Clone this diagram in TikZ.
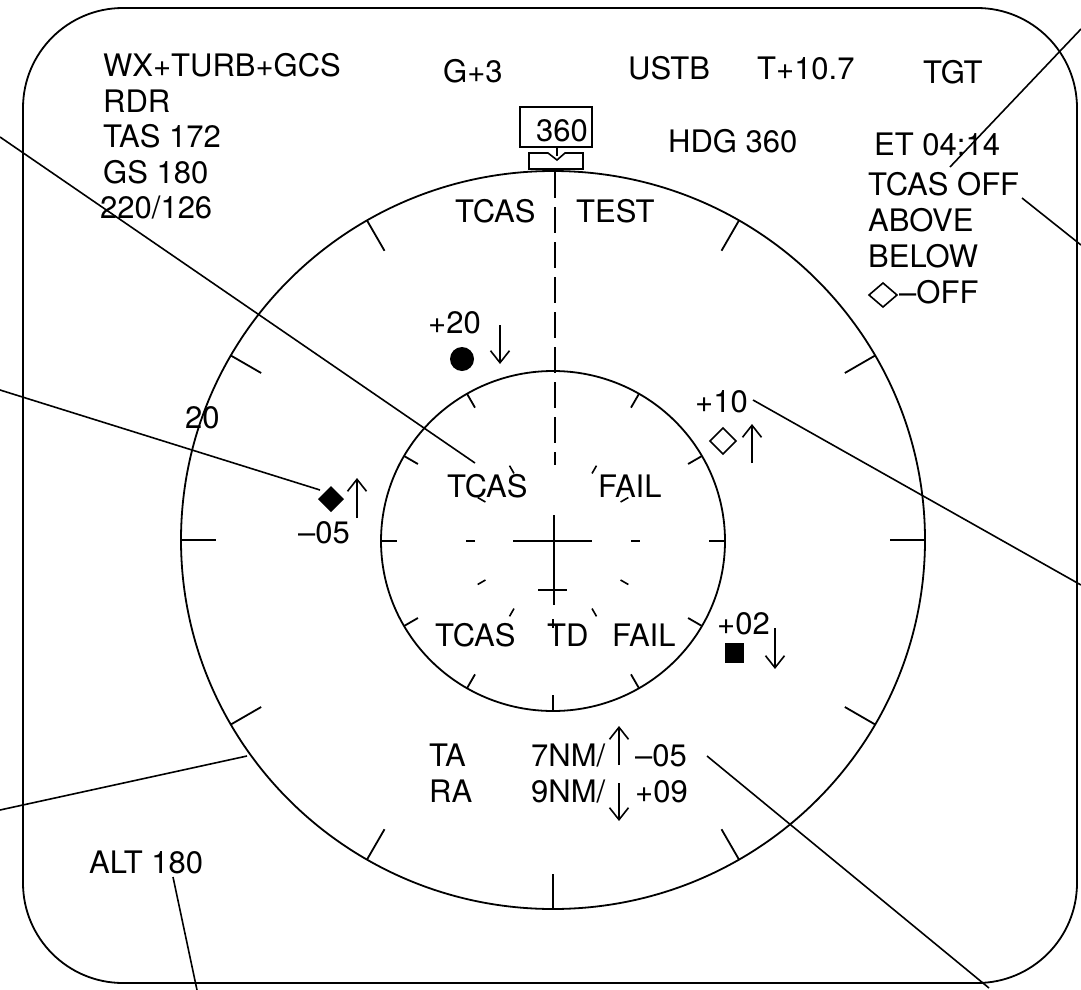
\documentclass[tikz,border=0pt]{standalone}
\usepackage{fontspec}
\setmainfont{TeX Gyre Heros}
\usetikzlibrary{arrows.meta}
\tikzset{
  txt/.style={font=\fontsize{31}{36}\selectfont, inner sep=0pt, anchor=base west},
  ln/.style={line width=1.8pt},
  thin/.style={line width=1.6pt},
  arr/.style={line width=1.6pt, -{Straight Barb[length=12pt,width=19pt,line width=1.6pt]}},
}
\begin{document}
\begin{tikzpicture}[x=1pt,y=-1pt]
\useasboundingbox (0,0) rectangle (1081,990);
% frame
\draw[ln, rounded corners=100pt] (23,8) rectangle (1077,983);
% rings
\draw[ln] (553,540) ellipse [x radius=372pt, y radius=369pt];
\draw[ln] (553,541) ellipse [x radius=172pt, y radius=170pt];
\foreach \a in {0,30,60,120,150,180,210,240,270,300,330}{
  \draw[ln] ({553+372*cos(\a)},{540-369*sin(\a)}) -- ({553+337*cos(\a)},{540-334*sin(\a)});
  \draw[ln] ({553+172*cos(\a)},{541-170*sin(\a)}) -- ({553+156*cos(\a)},{541-154*sin(\a)});
  \draw[thin] ({553+78*cos(\a)},{541-78*sin(\a)}) -- ({553+87*cos(\a)},{541-87*sin(\a)});
}
% heading pointer
\draw[thin] (520,107) rectangle (592,147);
\node[txt] (hdgval) at (536,141) {360};
\draw[thin] (557,147) -- (557,156);
\draw[thin] (529,153) -- (548,153) -- (557,160) -- (565,153) -- (583,153) -- (583,169) -- (529,169) -- cycle;
% lubber line
\draw[ln, dash pattern=on 26pt off 9pt] (555,172) -- (555,465);
% own aircraft
\draw[ln] (513,541) -- (592,541);
\draw[ln] (554,515) -- (554,605);
\draw[ln] (538,590) -- (567,590);
% top-left text
\node[txt] (wx) at (103,77) {WX+TURB+GCS};
\node[txt] (rdr) at (103,112) {RDR};
\node[txt] (tas) at (103,147) {TAS 172};
\node[txt] (gs) at (103,183) {GS 180};
\node[txt] (wind) at (100,218) {220/126};
\node[txt] (g3) at (443,82) {G+3};
\node[txt] (ustb) at (628,80) {USTB};
\node[txt] (tplus) at (757,80) {T+10.7};
\node[txt] (tgt) at (923,83) {TGT};
\node[txt] (hdg) at (668,152) {HDG 360};
\node[txt] (et) at (874,155) {ET 04:14};
\node[txt] (tcasoff) at (868,195) {TCAS OFF};
\node[txt] (above) at (868,231) {ABOVE};
\node[txt] (below) at (868,267) {BELOW};
\draw[thin] (869,295) -- (883,283) -- (897,295) -- (883,307) -- cycle;
\node[txt] (offtxt) at (899,303) {–OFF};
% ring texts
\node[txt] (tcasA) at (455,222) {TCAS};
\node[txt] (test) at (576,222) {TEST};
\node[txt] (p20) at (428,333) {+20};
\fill (462,359) circle (12pt);
\draw[arr] (500,325) -- (500,364);
\node[txt] (twenty) at (185,428) {20};
\node[txt] (p10) at (695,412) {+10};
\draw[thin] (710,441) -- (723,428) -- (736,441) -- (723,454) -- cycle;
\draw[arr] (752,463) -- (752,424);
\fill (318,499) -- (331,486) -- (344,499) -- (331,512) -- cycle;
\draw[arr] (357,518) -- (357,478);
\node[txt] (m05) at (298,543) {–05};
\node[txt] (tcasB) at (447,497) {TCAS};
\node[txt] (failA) at (598,497) {FAIL};
\node[txt] (tcasC) at (435,646) {TCAS};
\node[txt] (td) at (547,646) {TD};
\node[txt] (failB) at (612,646) {FAIL};
\node[txt] (p02) at (717,634) {+02};
\fill (725,643) rectangle (744,663);
\draw[arr] (775,628) -- (775,669);
% TA / RA
\node[txt] (ta) at (429,766) {TA};
\node[txt] (tanm) at (531,766) {7NM/};
\draw[arr] (619,765) -- (619,726);
\node[txt] (taalt) at (635,766) {–05};
\node[txt] (ra) at (429,802) {RA};
\node[txt] (ranm) at (531,802) {9NM/};
\draw[arr] (619,783) -- (619,821);
\node[txt] (raalt) at (635,802) {+09};
\node[txt] (alt) at (89,873) {ALT 180};
% leader lines
\coordinate (l1a) at (0,137);   \coordinate (l1b) at (475,463);
\coordinate (l2a) at (0,390);   \coordinate (l2b) at (320,490);
\coordinate (l3a) at (0,810);   \coordinate (l3b) at (247,756);
\coordinate (l4a) at (173,877); \coordinate (l4b) at (197,990);
\coordinate (l5a) at (707,756); \coordinate (l5b) at (989,988);
\coordinate (l6a) at (753,400); \coordinate (l6b) at (1081,585);
\coordinate (l7a) at (1022,198);\coordinate (l7b) at (1081,245);
\coordinate (l8a) at (950,167); \coordinate (l8b) at (1081,29);
\foreach \p in {1,...,8}{\draw[thin] (l\p a) -- (l\p b);}
\end{tikzpicture}
\end{document}
